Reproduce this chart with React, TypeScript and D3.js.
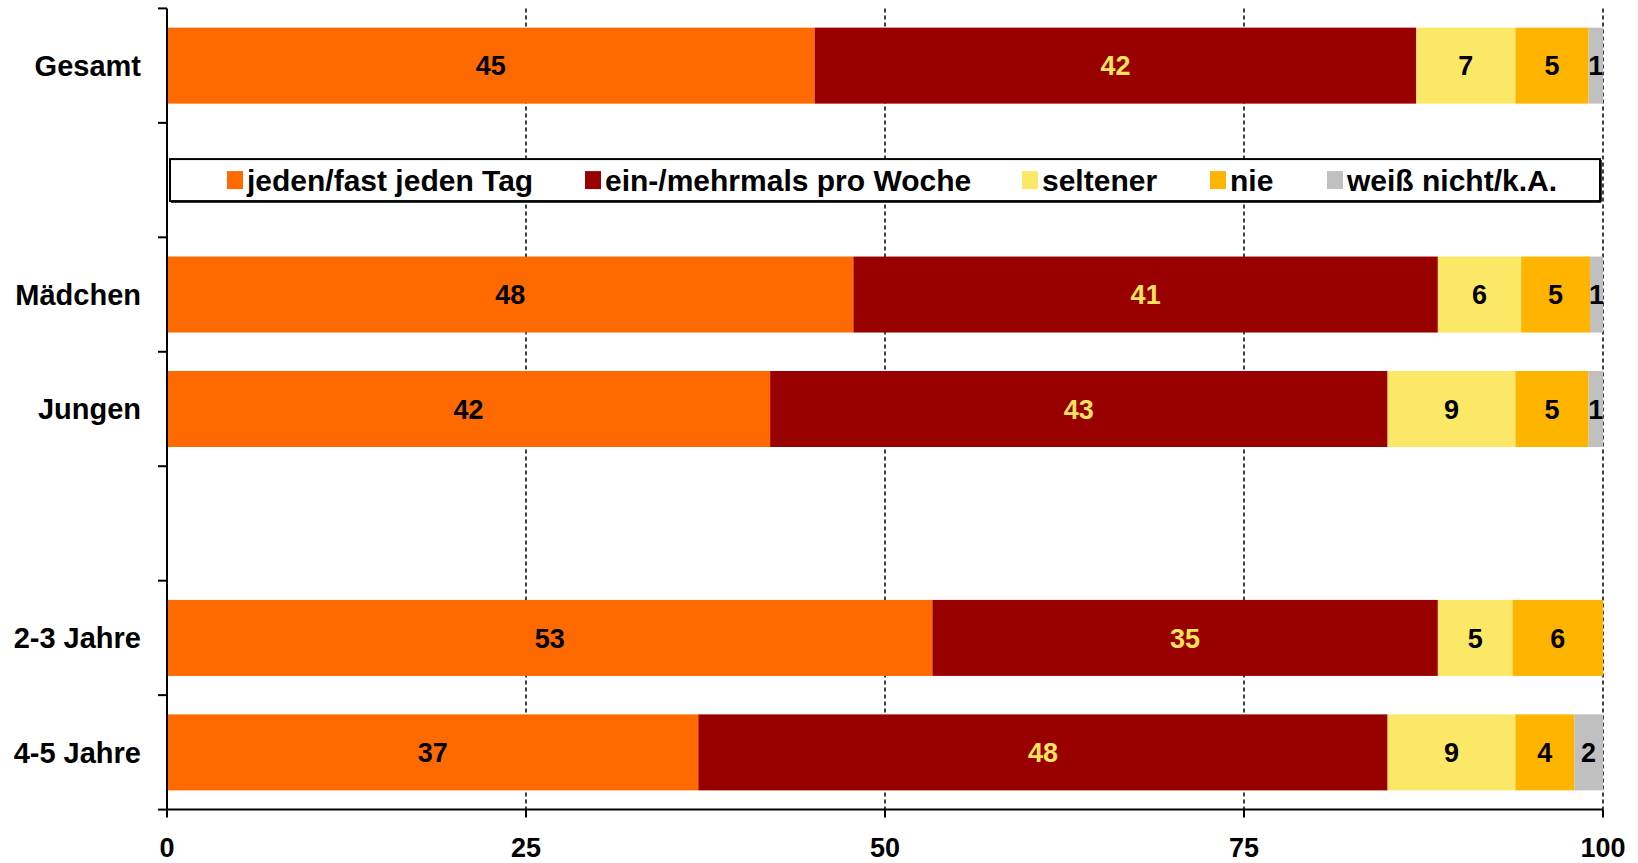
import React from "react";
import * as d3 from "d3";

const categories = ["Gesamt", "Mädchen", "Jungen", "2-3 Jahre", "4-5 Jahre"];
const seriesNames = ["jeden/fast jeden Tag", "ein-/mehrmals pro Woche", "seltener", "nie", "weiß nicht/k.A."];
const seriesColors = ["#FF6A00", "#990000", "#FBE866", "#FFB400", "#C0C0C0"];
const labelColors = ["#000000", "#FBE35E", "#000000", "#000000", "#000000"];

// values per category (percent), order follows seriesNames
const gesamt = [45.1, 41.9, 6.9, 5.1, 1.0];
const maedchen = [47.8, 40.7, 5.8, 4.8, 0.9];
const jungen = [42.0, 43.0, 8.9, 5.1, 1.0];
const jahre23 = [53.3, 35.2, 5.2, 6.3, 0];
const jahre45 = [37.0, 48.0, 8.9, 4.1, 2.0];
const labelsGesamt = [45, 42, 7, 5, 1];
const labelsMaedchen = [48, 41, 6, 5, 1];
const labelsJungen = [42, 43, 9, 5, 1];
const labels23 = [53, 35, 5, 6, null];
const labels45 = [37, 48, 9, 4, 2];
const xTicks = [0, 25, 50, 75, 100];

const rows = [
  { cat: categories[0], values: gesamt, labels: labelsGesamt },
  { cat: categories[1], values: maedchen, labels: labelsMaedchen },
  { cat: categories[2], values: jungen, labels: labelsJungen },
  { cat: categories[3], values: jahre23, labels: labels23 },
  { cat: categories[4], values: jahre45, labels: labels45 },
];

const slots = [categories[0], "__legend", categories[1], categories[2], "__gap", categories[3], categories[4]];

const W = 1638;
const H = 863;
const FONT = "'Liberation Sans', Arial, sans-serif";

export default function App() {
  const x = d3.scaleLinear().domain([0, 100]).range([167, 1603]);
  const y = d3.scaleBand<string>().domain(slots).range([8.4, 809.6]).paddingInner(0.336).paddingOuter(0.168);
  const step = y.step();
  const top = 8.4;
  const bottom = 809.6;
  const boundaries = d3.range(slots.length + 1).map((i) => top + i * step);

  const legendSlotY = (y("__legend") ?? 0) + y.bandwidth() / 2;
  const legendX = [227, 585, 1022, 1210, 1327];

  return (
    <svg width={W} height={H} style={{ position: "absolute", left: 0, top: 0, background: "#fff" }} fontFamily={FONT}>
      {/* gridlines */}
      {xTicks.slice(1).map((t) => (
        <line key={"g" + t} x1={x(t)} x2={x(t)} y1={top} y2={bottom} stroke="#000" strokeWidth={1.5} strokeDasharray="4,3" />
      ))}
      {/* bars */}
      {rows.map((r) => {
        const stacks = d3.cumsum(r.values);
        const y0 = y(r.cat) ?? 0;
        return (
          <g key={r.cat}>
            {r.values.map((v, i) => {
              const s = i === 0 ? 0 : stacks[i - 1];
              const e = stacks[i];
              if (v <= 0) return null;
              return (
                <rect key={i} x={x(s)} y={y0} width={x(e) - x(s)} height={y.bandwidth()} fill={seriesColors[i]} />
              );
            })}
            {r.values.map((v, i) => {
              const s = i === 0 ? 0 : stacks[i - 1];
              const e = stacks[i];
              const lab = r.labels[i];
              if (lab === null || v <= 0) return null;
              return (
                <text key={"t" + i} x={(x(s) + x(e)) / 2} y={y0 + y.bandwidth() / 2} dy="0.36em" textAnchor="middle" fontSize={27} fontWeight="bold" fill={labelColors[i]}>
                  {lab}
                </text>
              );
            })}
            <text x={141} y={y0 + y.bandwidth() / 2} dy="0.36em" textAnchor="end" fontSize={29} fontWeight="bold" fill="#000">
              {r.cat}
            </text>
          </g>
        );
      })}
      {/* legend */}
      <rect x={170} y={legendSlotY - 21} width={1430} height={42} fill="#fff" stroke="#000" strokeWidth={2} />
      <line x1={171} x2={1601} y1={legendSlotY + 22} y2={legendSlotY + 22} stroke="#000" strokeWidth={1.5} />
      <line x1={1601} x2={1601} y1={legendSlotY - 20} y2={legendSlotY + 22} stroke="#000" strokeWidth={1.5} />
      {seriesNames.map((n, i) => (
        <g key={n}>
          <rect x={legendX[i]} y={legendSlotY - 9} width={16} height={18} fill={seriesColors[i]} />
          <text x={legendX[i] + 20} y={legendSlotY} dy="0.36em" fontSize={30} fontWeight="bold" fill="#000">
            {n}
          </text>
        </g>
      ))}
      {/* y axis */}
      <line x1={x(0)} x2={x(0)} y1={top} y2={bottom} stroke="#000" strokeWidth={2} />
      {boundaries.map((b, i) => (
        <line key={"yt" + i} x1={x(0) - 9} x2={x(0)} y1={b} y2={b} stroke="#000" strokeWidth={2} />
      ))}
      {/* x axis */}
      <line x1={x(0)} x2={x(100)} y1={bottom} y2={bottom} stroke="#000" strokeWidth={2} />
      {xTicks.map((t) => (
        <g key={"xt" + t}>
          <line x1={x(t)} x2={x(t)} y1={bottom} y2={bottom + 8} stroke="#000" strokeWidth={2} />
          <text x={x(t)} y={857} textAnchor="middle" fontSize={27} fontWeight="bold" fill="#000">
            {t}
          </text>
        </g>
      ))}
    </svg>
  );
}
